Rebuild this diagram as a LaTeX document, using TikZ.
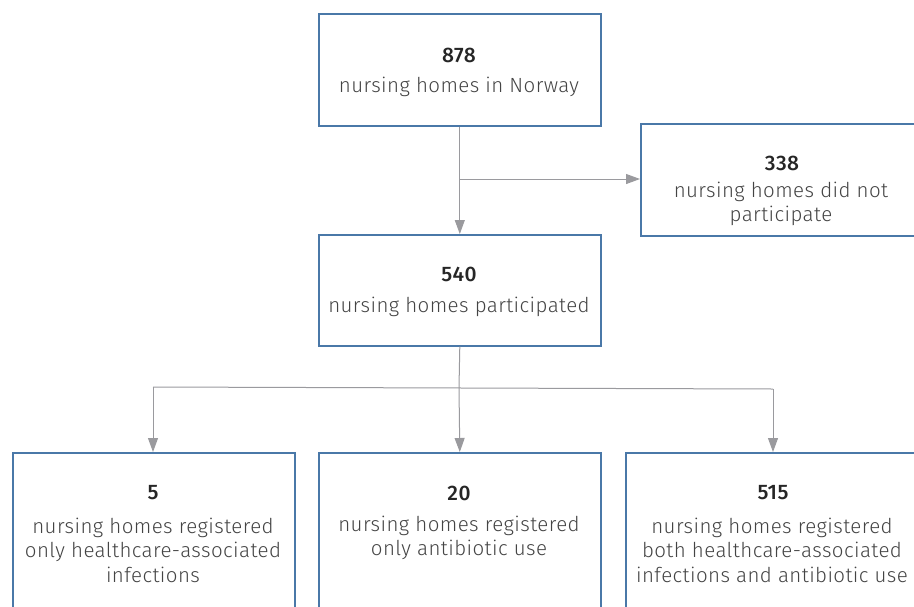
\documentclass[tikz,border=0pt]{standalone}
\usepackage{fontspec}
\setmainfont{Fira Sans}[UprightFont=* Light, BoldFont=* Medium, LetterSpace=2]
\usetikzlibrary{arrows.meta}
\definecolor{boxblue}{HTML}{4A78A8}
\definecolor{linegray}{HTML}{9A9A9E}
\definecolor{txtgray}{HTML}{444444}
\definecolor{numdark}{HTML}{262626}
\begin{document}
\begin{tikzpicture}[x=1pt,y=-1pt,
  flowbox/.style={draw=boxblue,line width=1.6pt,fill=white,inner sep=0pt,anchor=north west},
  lbl/.style={text=txtgray,font=\fontsize{20.5}{24.5}\selectfont,align=center,inner sep=0pt},
  num/.style={text=numdark,font=\fontsize{21}{22}\selectfont\bfseries,inner sep=0pt},
  conn/.style={draw=linegray,line width=1pt},
  arr/.style={conn,-{Triangle[length=14pt,width=10pt]}}]
\useasboundingbox (0,0) rectangle (914,606);
\clip (0,0) rectangle (914,606);
% boxes
\node[flowbox,minimum width=282pt,minimum height=112pt] (top) at (318,13) {};
\node[flowbox,minimum width=300pt,minimum height=112pt] (right) at (640,123) {};
\node[flowbox,minimum width=282pt,minimum height=111pt] (mid) at (318,234) {};
\node[flowbox,minimum width=282pt,minimum height=180pt] (b1) at (12,452) {};
\node[flowbox,minimum width=282pt,minimum height=180pt] (b2) at (318,452) {};
\node[flowbox,minimum width=300pt,minimum height=180pt] (b3) at (625,452) {};
% texts
\node[num] (t1n) at (459,55) {878};
\node[lbl] (t1l) at (459,87) {nursing homes in Norway};
\node[num] (t2n) at (782,163) {338};
\node[lbl] (t2l) at (781,204) {nursing homes did not\\participate};
\node[num] (t3n) at (459,274) {540};
\node[lbl] (t3l) at (459,307) {nursing homes participated};
\node[num] (t4n) at (153,493) {5};
\node[lbl] (t4l) at (153,550) {nursing homes registered\\only healthcare-associated\\infections};
\node[num] (t5n) at (459,493) {20};
\node[lbl] (t5l) at (459,538) {nursing homes registered\\only antibiotic use};
\node[num] (t6n) at (773,493) {515};
\node[lbl] (t6l) at (772,550) {nursing homes registered\\both healthcare-associated\\infections and antibiotic use};
% connectors
\coordinate (split1) at (459,179);
\coordinate (split2) at (459,388);
\coordinate (sL) at (153,387);
\coordinate (sR) at (773,389);
\draw[arr] (top.south) -- (mid.north);
\draw[arr] (split1) -- (right.west |- split1);
\draw[conn] (mid.south) -- (split2);
\draw[conn] (sL) -- (sR);
\draw[arr] (sL) -- (sL |- b1.north);
\draw[arr] (split2) -- (b2.north);
\draw[arr] (sR) -- (sR |- b3.north);
\end{tikzpicture}
\end{document}
